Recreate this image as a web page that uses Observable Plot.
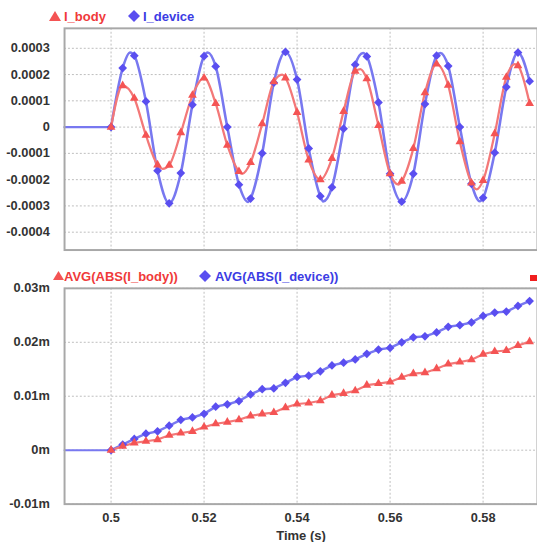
<!DOCTYPE html>
<html><head><meta charset="utf-8">
<script src="https://cdn.jsdelivr.net/npm/d3@7"></script>
<script src="https://cdn.jsdelivr.net/npm/@observablehq/plot@0.6"></script>
<style>
html,body{margin:0;padding:0;background:#fff;overflow:hidden;width:537px;height:542px;}
#root{position:relative;width:537px;height:542px;font-family:"Liberation Sans",Arial,sans-serif;overflow:hidden;}
.leg{position:absolute;font-weight:bold;font-size:13px;line-height:13px;white-space:nowrap;}
.sym{position:absolute;}
.plot{position:absolute;left:0;}
</style></head><body><div id="root"></div>
<script>
// ---- data ----
const markerT = [0.5,0.5025,0.505,0.5075,0.51,0.5125,0.515,0.5175,0.52,0.5225,0.525,0.5275,0.53,0.5325,0.535,0.5375,0.54,0.5425,0.545,0.5475,0.55,0.5525,0.555,0.5575,0.56,0.5625,0.565,0.5675,0.57,0.5725,0.575,0.5775,0.58,0.5825,0.585,0.5875,0.59];
const preT = [0.49, 0.5];
const preV = [0, 0];

// top panel: I_device (blue) and I_body (red) at marker times
const iDevice = [0,0.000225,0.000272,0.0000975,-0.000166,-0.00029,-0.000175,0.000085,0.00027,0.000231,0,-0.000219,-0.000272,-0.0001,0.000169,0.000286,0.000181,-0.000081,-0.000263,-0.000229,-0.000006,0.0002375,0.000269,0.000094,-0.000178,-0.000284,-0.000178,0.0000875,0.000272,0.0002325,0,-0.000216,-0.000269,-0.0000975,0.0001525,0.000284,0.000175];
const iBody = [0,0.000158,0.00011,-0.000031,-0.000144,-0.000145,-0.000021,0.000121,0.000187,0.00009,-0.000069,-0.000169,-0.000135,0.0000125,0.0001725,0.0001875,0.000056,-0.000125,-0.0002,-0.000119,0.00006,0.0002125,0.000184,0.000006,-0.0001775,-0.000206,-0.000081,0.000131,0.00024,0.000159,-0.000056,-0.000213,-0.000203,-0.000025,0.00019,0.000234,0.00009];
// curve extrema read between markers
const iDeviceExtT = [0.5041,0.5208,0.5295,0.5456,0.5542,0.5708,0.5793];
const iDeviceExtV = [0.000284,0.000284,-0.000285,-0.000283,0.000282,0.000282,-0.000282];
const iBodyExtT = [0.5111,0.5282,0.5368,0.5536,0.5618,0.5786,0.5868];
const iBodyExtV = [-0.000159,-0.000178,0.0002,0.000221,-0.000219,-0.0002375,0.00024];

// bottom panel (values in m units as labelled)
const avgDevice = [0,0.00104,0.00208,0.00306,0.00349,0.00453,0.00563,0.00606,0.00673,0.00807,0.0085,0.00911,0.01034,0.01131,0.01144,0.01248,0.01358,0.01382,0.01462,0.01572,0.01621,0.01682,0.01786,0.01865,0.01896,0.02,0.02092,0.0211,0.02183,0.02287,0.02318,0.02367,0.02489,0.0255,0.02569,0.02673,0.02765];
const avgBody = [0,0.00073,0.00135,0.00165,0.00196,0.00275,0.00318,0.00349,0.00428,0.00489,0.0052,0.00563,0.00636,0.00673,0.00697,0.00789,0.00856,0.00875,0.00917,0.01021,0.01052,0.01101,0.01205,0.01235,0.01266,0.01352,0.01419,0.01437,0.01511,0.01596,0.01633,0.01676,0.0178,0.01829,0.01847,0.01939,0.02012];

// ticks
const xTicks = [0.5,0.52,0.54,0.56,0.58];
const xLabels = ["0.5","0.52","0.54","0.56","0.58"];
const topYTicks = [0.0003,0.0002,0.0001,0,-0.0001,-0.0002,-0.0003,-0.0004];
const topYLabels = ["0.0003","0.0002","0.0001","0","-0.0001","-0.0002","-0.0003","-0.0004"];
const botYTicks = [0.03,0.02,0.01,0,-0.01];
const botYLabels = ["0.03m","0.02m","0.01m","0m","-0.01m"];

// ---- styling ----
const RED_LINE = "#f37878", RED_MK = "#f45454", RED_TXT = "#f03a3a";
const BLUE_LINE = "#7878f0", BLUE_MK = "#5a4ef0", BLUE_TXT = "#3c3ce4";
const GRID = {stroke:"#bdbdbd", strokeOpacity:1, strokeDasharray:"2,2", strokeWidth:1};
const FONT = "'Liberation Sans', Arial, sans-serif";

const root = document.getElementById("root");
const pts = (T, V) => T.map((t,i)=>({t, v: V[i]}));
const merged = (T, V, ET, EV) => pts(T,V).concat(pts(ET,EV)).sort((a,b)=>a.t-b.t);

const topMap = new Map(topYTicks.map((d,i)=>[d, topYLabels[i]]));
const botMap = new Map(botYTicks.map((d,i)=>[d, botYLabels[i]]));
const xMap = new Map(xTicks.map((d,i)=>[d, xLabels[i]]));

const topPlot = Plot.plot({
  width: 545, height: 240,
  marginLeft: 65, marginRight: 0, marginTop: 10, marginBottom: 5,
  x: {domain: [0.49, 0.59], range: [65, 537], axis: null},
  y: {domain: [-0.000468, 0.000376], axis: null},
  style: {fontFamily: FONT, fontSize: "13px", fontWeight: "bold", color: "#333", background: "white", overflow: "visible"},
  marks: [
    Plot.gridX(xTicks, GRID),
    Plot.gridY(topYTicks, GRID),
    Plot.axisY(topYTicks, {tickSize: 0, tickPadding: 15, tickFormat: d => topMap.get(d), label: null, fill: "#333"}),
    Plot.line(pts(preT, preV), {x:"t", y:"v", stroke: BLUE_LINE, strokeWidth: 2.5}),
    Plot.line(merged(markerT, iDevice, iDeviceExtT, iDeviceExtV), {x:"t", y:"v", stroke: BLUE_LINE, strokeWidth: 2.6, curve: "monotone-x"}),
    Plot.line(merged(markerT, iBody, iBodyExtT, iBodyExtV), {x:"t", y:"v", stroke: RED_LINE, strokeWidth: 2.3, curve: "monotone-x"}),
    Plot.dot(pts(markerT, iDevice), {x:"t", y:"v", symbol: "diamond2", r: 4, fill: BLUE_MK, stroke: "none"}),
    Plot.dot(pts(markerT, iBody), {x:"t", y:"v", symbol: "triangle", r: 3.3, fill: RED_MK, stroke: "none"}),
    Plot.frame({stroke: "#a8a8a8", strokeWidth: 2})
  ]
});
topPlot.classList.add("plot");
topPlot.style.top = "18px";
root.appendChild(topPlot);

const botPlot = Plot.plot({
  width: 545, height: 264,
  marginLeft: 65, marginRight: 0, marginTop: 10, marginBottom: 35,
  x: {domain: [0.49, 0.59], range: [65, 537], axis: null},
  y: {domain: [-0.01, 0.03], axis: null},
  style: {fontFamily: FONT, fontSize: "13px", fontWeight: "bold", color: "#333", background: "white", overflow: "visible"},
  marks: [
    Plot.gridX(xTicks, GRID),
    Plot.gridY(botYTicks, GRID),
    Plot.axisY(botYTicks, {tickSize: 0, tickPadding: 15, tickFormat: d => botMap.get(d), label: null, fill: "#333"}),
    Plot.axisX(xTicks, {tickSize: 0, tickPadding: 9, tickFormat: d => xMap.get(d), label: null, fill: "#333"}),
    Plot.line(pts(preT, preV), {x:"t", y:"v", stroke: BLUE_LINE, strokeWidth: 2}),
    Plot.line(pts(markerT, avgDevice), {x:"t", y:"v", stroke: BLUE_LINE, strokeWidth: 2.5}),
    Plot.line(pts(markerT, avgBody), {x:"t", y:"v", stroke: RED_LINE, strokeWidth: 2.2}),
    Plot.dot(pts(markerT, avgDevice), {x:"t", y:"v", symbol: "diamond2", r: 4, fill: BLUE_MK, stroke: "none"}),
    Plot.dot(pts(markerT, avgBody), {x:"t", y:"v", symbol: "triangle", r: 3.3, fill: RED_MK, stroke: "none"}),
    Plot.frame({stroke: "#a8a8a8", strokeWidth: 2})
  ]
});
botPlot.classList.add("plot");
botPlot.style.top = "278px";
root.appendChild(botPlot);

// ---- legends ----
function addSym(kind, x, y, w, h, color) {
  const ns = "http://www.w3.org/2000/svg";
  const s = document.createElementNS(ns, "svg");
  s.setAttribute("width", w); s.setAttribute("height", h);
  s.setAttribute("class", "sym");
  s.style.left = x + "px"; s.style.top = y + "px";
  const p = document.createElementNS(ns, "polygon");
  const pts = kind === "tri" ? `${w/2},0 ${w},${h} 0,${h}` :
              kind === "dia" ? `${w/2},0 ${w},${h/2} ${w/2},${h} 0,${h/2}` :
              `0,0 ${w},0 ${w},${h} 0,${h}`;
  p.setAttribute("points", pts); p.setAttribute("fill", color);
  s.appendChild(p); root.appendChild(s);
}
function addText(txt, x, yc, color) {
  const d = document.createElement("div");
  d.className = "leg"; d.textContent = txt;
  d.style.left = x + "px"; d.style.top = (yc - 6.5) + "px"; d.style.color = color;
  root.appendChild(d);
}
const legendTop = ["I_body", "I_device"];
const legendBot = ["AVG(ABS(I_body))", "AVG(ABS(I_device))"];
addSym("tri", 49, 11, 12, 10, RED_MK); addText(legendTop[0], 64, 16, RED_TXT);
addSym("dia", 128, 10, 12, 12, BLUE_MK); addText(legendTop[1], 143, 16, BLUE_TXT);
addSym("tri", 53, 271, 11, 9, RED_MK); addText(legendBot[0], 64, 276, RED_TXT);
addSym("dia", 199, 270, 12, 12, BLUE_MK); addText(legendBot[1], 215, 276, BLUE_TXT);
addSym("sq", 530, 275, 8, 6, "#f01e1e");

const xTitle = document.createElement("div");
xTitle.className = "leg"; xTitle.textContent = "Time (s)"; xTitle.style.color = "#333";
xTitle.style.left = "0px"; xTitle.style.width = "602px"; xTitle.style.textAlign = "center";
xTitle.style.top = "528.5px";
root.appendChild(xTitle);
</script></body></html>
